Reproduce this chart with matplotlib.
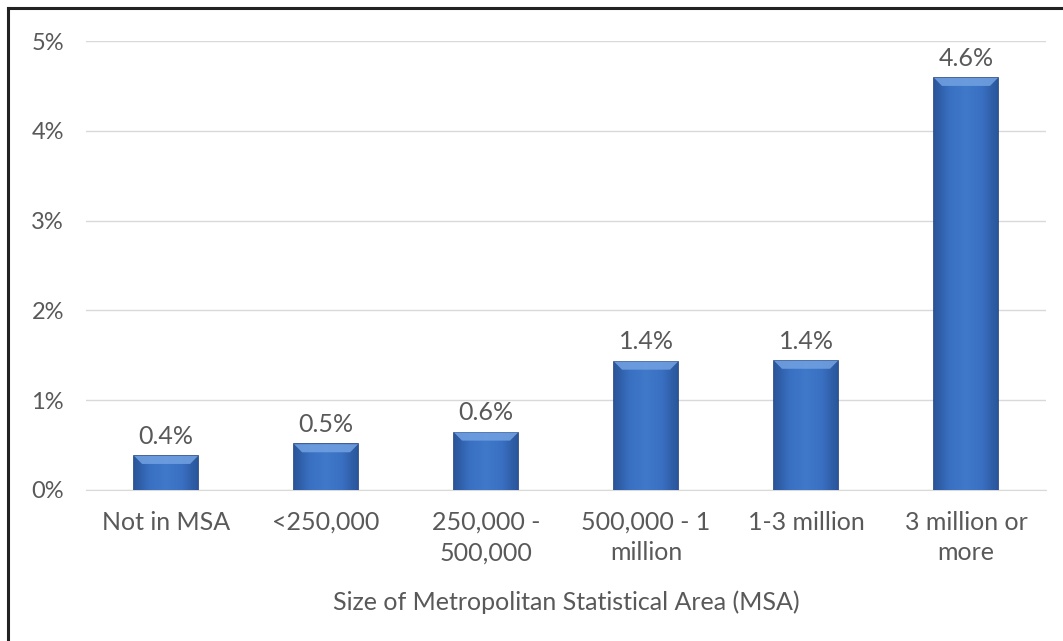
import numpy as np
import matplotlib.pyplot as plt
from matplotlib.lines import Line2D
from matplotlib.colors import LinearSegmentedColormap
from matplotlib.ticker import FuncFormatter

categories = ["Not in MSA", "<250,000", "250,000 -\n500,000", "500,000 - 1\nmillion",
              "1-3 million", "3 million or\nmore"]
shares = [0.38, 0.51, 0.64, 1.43, 1.44, 4.59]  # percent of establishments

plt.rcParams['font.family'] = ['Lato', 'DejaVu Sans']
text_gray = '#595959'

fig = plt.figure(figsize=(10.63, 6.41), dpi=100)
ax = fig.add_axes([0.081, 0.2356, 0.903, 0.7004])

x = np.arange(len(categories))
width = 0.4
bars = ax.bar(x, shares, width=width, color='#3b70c2', edgecolor='#20407a',
              linewidth=1.2, zorder=3)

# shaded face: slightly darker at the sides
shade = LinearSegmentedColormap.from_list(
    'shade', ['#2a5599', '#3a70c2', '#4079c9', '#3a70c2', '#2a5599'])
grad = np.linspace(0, 1, 256).reshape(1, -1)
for rect, val in zip(bars, shares):
    x0 = rect.get_x()
    im = ax.imshow(grad, cmap=shade, aspect='auto', zorder=3.5,
                   extent=(x0, x0 + width, 0, val))
    im.set_clip_path(rect)
    # bevel highlight along the top edge
    ax.fill([x0, x0 + width, x0 + width - 0.05, x0 + 0.05],
            [val, val, val - 0.09, val - 0.09],
            color='#6f9fe0', alpha=0.9, zorder=4, lw=0)
    ax.text(x0 + width / 2, val + 0.09, f"{val:.1f}%", ha='center', va='bottom',
            fontsize=18, color=text_gray, zorder=5)

ax.set_xlim(-0.5, len(categories) - 0.5)
ax.set_ylim(0, 5)
ax.set_yticks(np.arange(0, 6, 1))
ax.yaxis.set_major_formatter(FuncFormatter(lambda v, _: f"{v:.0f}%"))
ax.set_xticks(x)
ax.set_xticklabels(categories, linespacing=1.4)
ax.tick_params(axis='both', length=0, labelsize=18, labelcolor=text_gray)
ax.tick_params(axis='y', labelsize=17, pad=16)
ax.tick_params(axis='x', pad=15)
ax.grid(axis='y', color='#d9d9d9', linewidth=1.0, zorder=0)
for side in ['top', 'right', 'left']:
    ax.spines[side].set_visible(False)
ax.spines['bottom'].set_color('#d9d9d9')
ax.set_xlabel("Size of Metropolitan Statistical Area (MSA)", fontsize=18,
              color=text_gray, labelpad=19)

# outer frame on the left and top
fig.add_artist(Line2D([0.0075, 0.0075], [0, 0.9875], transform=fig.transFigure,
                      color='#222222', linewidth=2.2))
fig.add_artist(Line2D([0.0075, 1.0], [0.9875, 0.9875], transform=fig.transFigure,
                      color='#222222', linewidth=2.2))

fig.savefig('out.png', dpi=100)
